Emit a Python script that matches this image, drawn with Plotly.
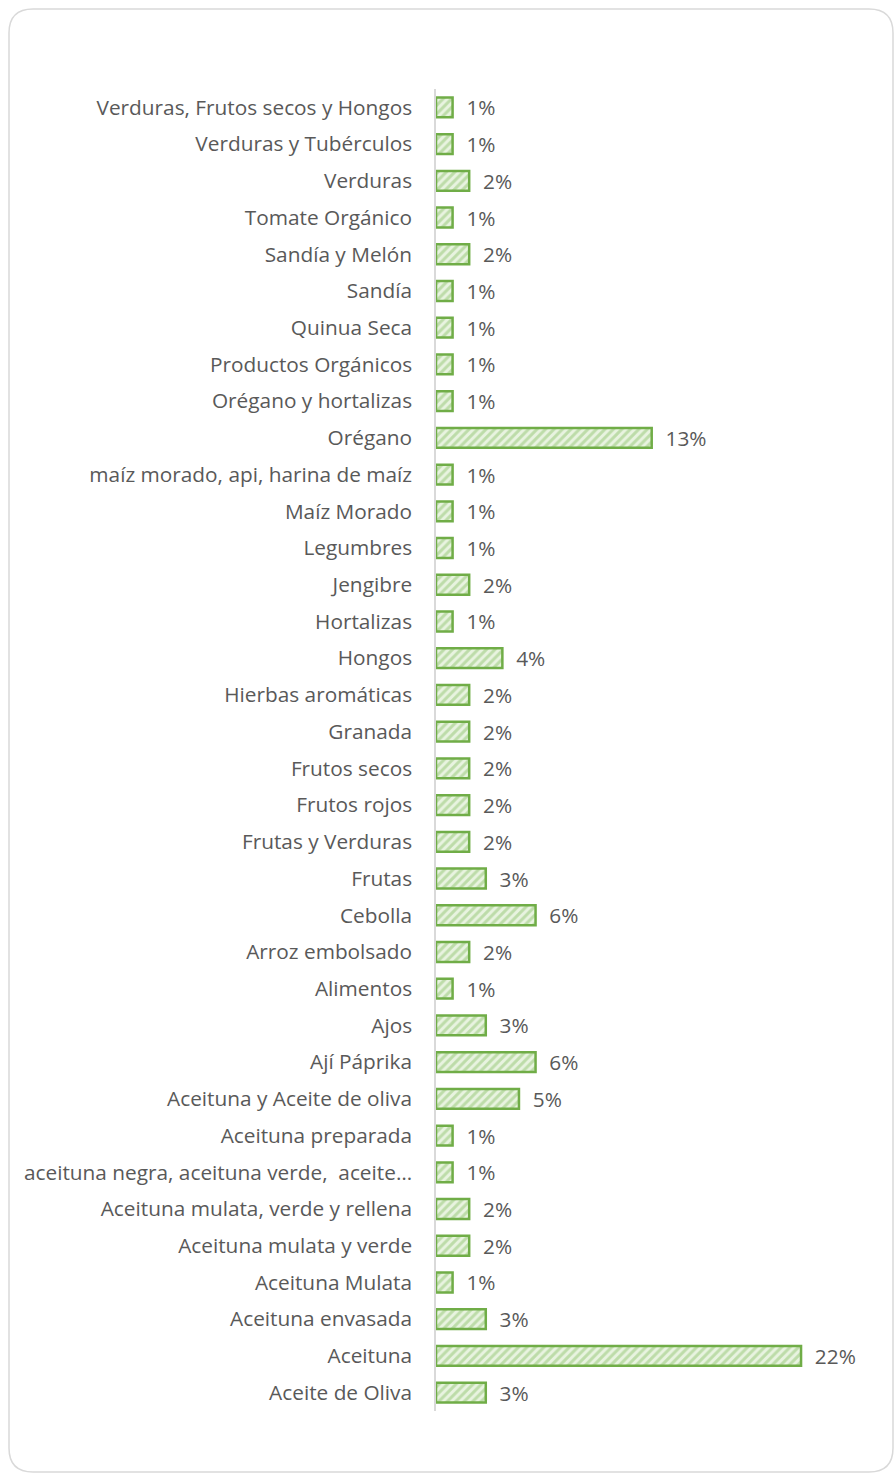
import plotly.graph_objects as go

# Product categories (bottom to top) and their share in percent
categories = [
    "Aceite de Oliva",
    "Aceituna",
    "Aceituna envasada",
    "Aceituna Mulata",
    "Aceituna mulata y verde",
    "Aceituna mulata, verde y rellena",
    "aceituna negra, aceituna verde,  aceite…",
    "Aceituna preparada",
    "Aceituna y Aceite de oliva",
    "Ají Páprika",
    "Ajos",
    "Alimentos",
    "Arroz embolsado",
    "Cebolla",
    "Frutas",
    "Frutas y Verduras",
    "Frutos rojos",
    "Frutos secos",
    "Granada",
    "Hierbas aromáticas",
    "Hongos",
    "Hortalizas",
    "Jengibre",
    "Legumbres",
    "Maíz Morado",
    "maíz morado, api, harina de maíz",
    "Orégano",
    "Orégano y hortalizas",
    "Productos Orgánicos",
    "Quinua Seca",
    "Sandía",
    "Sandía y Melón",
    "Tomate Orgánico",
    "Verduras",
    "Verduras y Tubérculos",
    "Verduras, Frutos secos y Hongos",
]
shares = [3, 22, 3, 1, 2, 2, 1, 1, 5, 6, 3, 1, 2, 6, 3, 2, 2, 2, 2, 2,
          4, 1, 2, 1, 1, 1, 13, 1, 1, 1, 1, 2, 1, 2, 1, 1]

W, H = 895, 1475
ML, MR, MT, MB = 436, 11, 89, 64
XMAX = 27

TEXT = "#595959"
FONT = "Open Sans"
FSIZE = 20.8

fig = go.Figure(
    go.Bar(
        x=shares,
        y=categories,
        orientation="h",
        marker=dict(
            color="#E6F2DE",
            line=dict(color="#70AD47", width=2.5),
            pattern=dict(shape="/", fgcolor="#92C672", bgcolor="#E8F3E0",
                         size=6, solidity=0.5),
        ),
        text=shares,
        texttemplate="\u00a0\u00a0%{x}%",
        textposition="outside",
        constraintext="none",
        cliponaxis=False,
        textfont=dict(color=TEXT, size=FSIZE, family=FONT),
        hoverinfo="skip",
    )
)

# Rounded frame around the chart, described in pixels
pw, ph = W - ML - MR, H - MT - MB


def px(x):
    return (x - ML) / pw


def py(y):
    return 1 - (y - MT) / ph


L, T, R, B, r = 9, 9, 893, 1472, 24
path = (
    f"M {px(L + r)},{py(T)} L {px(R - r)},{py(T)} "
    f"Q {px(R)},{py(T)} {px(R)},{py(T + r)} "
    f"L {px(R)},{py(B - r)} Q {px(R)},{py(B)} {px(R - r)},{py(B)} "
    f"L {px(L + r)},{py(B)} Q {px(L)},{py(B)} {px(L)},{py(B - r)} "
    f"L {px(L)},{py(T + r)} Q {px(L)},{py(T)} {px(L + r)},{py(T)} Z"
)

fig.update_layout(
    width=W,
    height=H,
    margin=dict(l=ML, r=MR, t=MT, b=MB),
    paper_bgcolor="white",
    plot_bgcolor="white",
    bargap=0.46,
    showlegend=False,
    font=dict(family=FONT, color=TEXT, size=FSIZE),
    xaxis=dict(range=[0, XMAX], visible=False, fixedrange=True),
    yaxis=dict(
        type="category",
        showline=True,
        linecolor="#D9D9D9",
        linewidth=1.5,
        showgrid=False,
        ticks="",
        ticklabelstandoff=18,
        tickfont=dict(size=FSIZE, family=FONT, color=TEXT),
        fixedrange=True,
    ),
    shapes=[
        dict(type="path", xref="paper", yref="paper", path=path,
             line=dict(color="#D9D9D9", width=1.5), fillcolor="rgba(0,0,0,0)",
             layer="below")
    ],
)

fig.write_html("out.html")
